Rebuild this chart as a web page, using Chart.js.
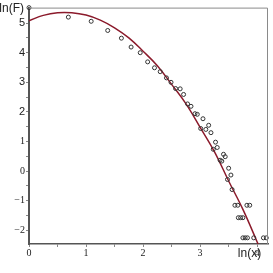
<!DOCTYPE html>
<html>
<head>
<meta charset="utf-8">
<script src="https://cdn.jsdelivr.net/npm/chart.js@4"></script>
<style>
  html, body { margin: 0; padding: 0; background: #fff; }
</style>
</head>
<body>
<canvas id="chart" width="273" height="273"></canvas>
<script>
// observed points (ln x, ln F)
const pointX = [0, 0.69, 1.09, 1.38, 1.62, 1.79, 1.95, 2.08, 2.20, 2.30,
                2.41, 2.49, 2.57, 2.65, 2.71, 2.78, 2.84, 2.91, 2.95, 3.01,
                3.05, 3.10, 3.15, 3.19, 3.23, 3.27, 3.30, 3.35, 3.38, 3.41,
                3.44, 3.48, 3.50, 3.54, 3.56, 3.61, 3.66, 3.67, 3.71, 3.75,
                3.82, 3.87, 3.75, 3.79, 3.83, 3.94, 4.11, 4.16];
const pointY = [5.52, 5.20, 5.06, 4.75, 4.49, 4.19, 4.00, 3.69, 3.49, 3.36,
                3.15, 3.00, 2.79, 2.78, 2.59, 2.27, 2.19, 1.94, 1.92, 1.44,
                1.77, 1.41, 1.55, 1.30, 0.74, 0.98, 0.80, 0.37, 0.34, 0.57,
                0.49, -0.28, 0.10, -0.13, -0.62, -1.15, -1.15, -1.57, -1.57, -1.57,
                -1.15, -1.15, -2.25, -2.25, -2.25, -2.25, -2.25, -2.25];

// fitted curve
const curveX = [0, 0.25, 0.5, 0.75, 1, 1.25, 1.5, 1.75, 2, 2.25, 2.5, 2.75, 3, 3.25, 3.5, 3.75, 4, 4.1];
const curveY = [5.08, 5.26, 5.35, 5.35, 5.27, 5.10, 4.84, 4.50, 4.05, 3.56, 2.93, 2.28, 1.48, 0.66, -0.33, -1.29, -2.39, -2.86];

const xTicks = [0, 0.5, 1, 1.5, 2, 2.5, 3, 3.5, 4];
const yTicks = [-2, -1.5, -1, -0.5, 0, 0.5, 1, 1.5, 2, 2.5, 3, 3.5, 4, 4.5, 5];
const xRange = [0, 4.19];
const yRange = [-2.458, 5.522];
const xTitle = 'ln(x)';
const yTitle = 'ln(F)';

const serif = { family: '"Liberation Serif", serif', size: 10 };
const sans = { family: '"Liberation Sans", sans-serif', size: 11 };

function fmt(v) {
    if (!Number.isInteger(v)) return '';
    return v < 0 ? '\u2212' + Math.abs(v) : String(v);
}

// top/right frame + the two axis titles
const framePlugin = {
    id: 'frame',
    afterDraw(chart) {
        const { ctx, chartArea: a } = chart;
        ctx.save();
        ctx.strokeStyle = '#8a8a8a';
        ctx.lineWidth = 1;
        ctx.beginPath();
        ctx.moveTo(a.left, a.top + 0.5);
        ctx.lineTo(a.right - 0.5, a.top + 0.5);
        ctx.lineTo(a.right - 0.5, a.bottom);
        ctx.stroke();

        ctx.fillStyle = '#222';
        ctx.font = '12px "Liberation Sans", sans-serif';
        ctx.textBaseline = 'middle';
        ctx.textAlign = 'right';
        ctx.fillText(yTitle, a.left - 5, a.top + 1);
        ctx.textAlign = 'center';
        ctx.fillText(xTitle, a.right - 18.5, a.bottom + 10);
        ctx.restore();
    }
};

new Chart(document.getElementById('chart'), {
    type: 'scatter',
    data: {
        datasets: [{
            data: pointX.map((x, i) => ({ x, y: pointY[i] })),
            pointStyle: 'circle',
            pointRadius: 2,
            pointBorderWidth: 1,
            pointBorderColor: '#333',
            pointBackgroundColor: 'rgba(0,0,0,0)',
            clip: false,
            order: 0
        }, {
            data: curveX.map((x, i) => ({ x, y: curveY[i] })),
            showLine: true,
            borderColor: '#8b1a2b',
            borderWidth: 1.5,
            pointRadius: 0,
            tension: 0.4,
            clip: 0,
            order: 1
        }]
    },
    options: {
        responsive: false,
        animation: false,
        layout: { padding: { left: 0, top: 7, right: 4.5, bottom: 0 } },
        plugins: { legend: { display: false }, tooltip: { enabled: false } },
        scales: {
            x: {
                type: 'linear',
                min: xRange[0],
                max: xRange[1],
                afterBuildTicks: s => { s.ticks = xTicks.map(v => ({ value: v })); },
                afterFit: s => { s.height = 29; },
                ticks: {
                    callback: fmt,
                    font: serif,
                    color: '#222',
                    padding: 0,
                    maxRotation: 0,
                    autoSkip: false
                },
                grid: { drawOnChartArea: false, tickLength: 3, color: '#888' },
                border: { color: '#555', width: 1.5 }
            },
            y: {
                type: 'linear',
                min: yRange[0],
                max: yRange[1],
                afterBuildTicks: s => { s.ticks = yTicks.map(v => ({ value: v })); },
                afterFit: s => { s.width = 29; },
                ticks: {
                    callback: fmt,
                    // upper labels look sans, lower ones serif in the source
                    font: ctx => (ctx.tick && ctx.tick.value >= 2 ? sans : serif),
                    color: '#222',
                    padding: 1,
                    autoSkip: false
                },
                grid: { drawOnChartArea: false, tickLength: 3, color: '#888' },
                border: { color: '#555', width: 2 }
            }
        }
    },
    plugins: [framePlugin]
});
</script>
</body>
</html>
